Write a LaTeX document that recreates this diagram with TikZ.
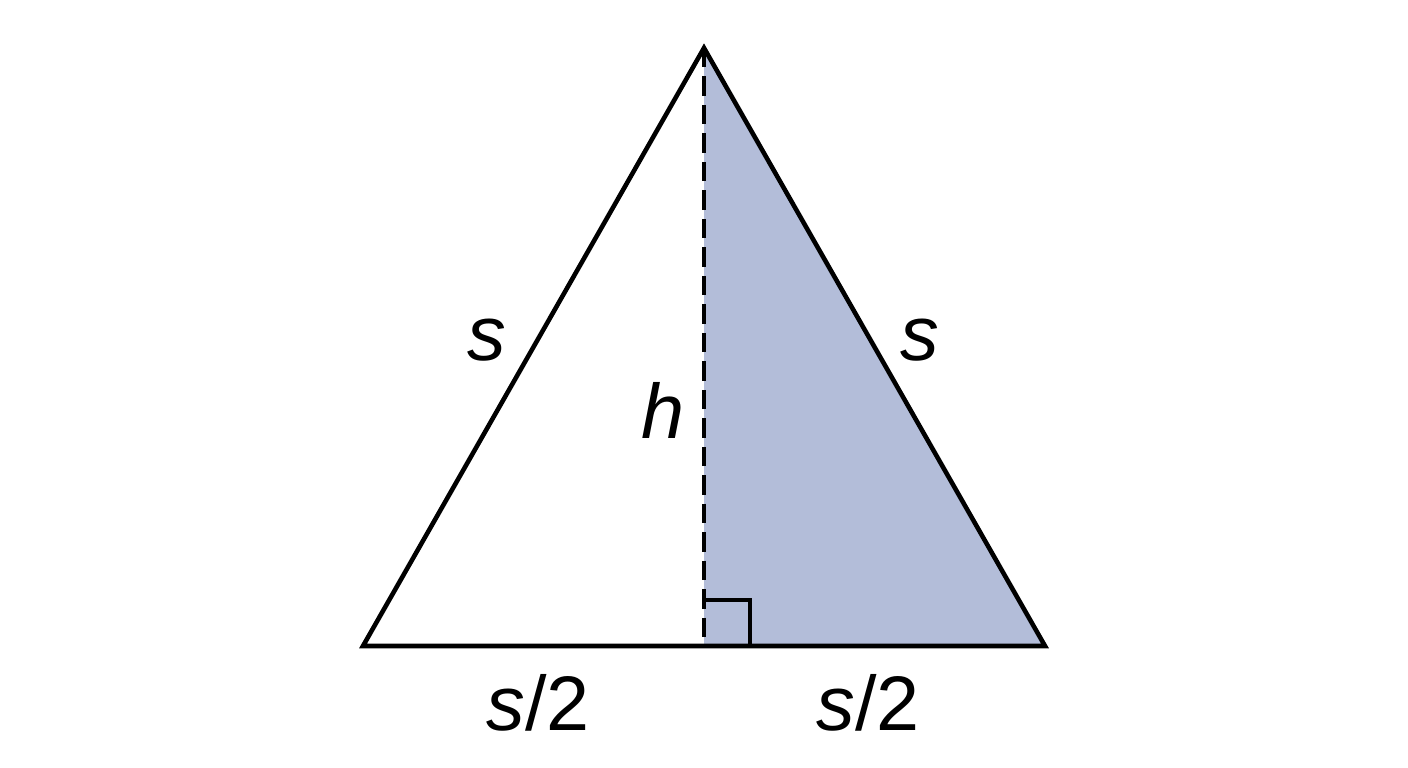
\documentclass[tikz,border=0pt]{standalone}
\usepackage{fontspec}
\setmainfont{Liberation Sans}
\usepackage{xcolor}
\usetikzlibrary{calc}
\usetikzlibrary{positioning}
\definecolor{halfblue}{HTML}{B3BDD9}

\begin{document}
\begin{tikzpicture}[x=0.01cm, y=0.01cm, line width=1.3pt]
    \tikzstyle{lbl}=[font=\fontsize{22}{24}\selectfont, inner sep=0pt]
    \useasboundingbox (0,0) rectangle (1408,768);
    \coordinate (top) at (704,720);
    \coordinate (bl) at (363,122);
    \coordinate (br) at (1045,122);
    \coordinate (foot) at (704,122);
    \fill[halfblue] (top) -- (br) -- (foot) -- cycle;
    % right angle mark
    \draw ($(foot)+(0,46)$) -- ($(foot)+(46,46)$) -- ($(foot)+(46,0)$);
    \draw[line join=miter] (bl) -- (top) -- (br) -- cycle;
    \draw[dash pattern=on 5.5pt off 2.6pt] (top) -- (foot);
    \node[lbl] (sleft) at (487,428) {\textit{s}};
    \node[lbl] (sright) at (920,428) {\textit{s}};
    \node[lbl] (hgt) at (663,358) {\textit{h}};
    \node[lbl] (halfl) at (538,65) {\textit{s}/2};
    \node[lbl] (halfr) at (868,65) {\textit{s}/2};
\end{tikzpicture}
\end{document}
